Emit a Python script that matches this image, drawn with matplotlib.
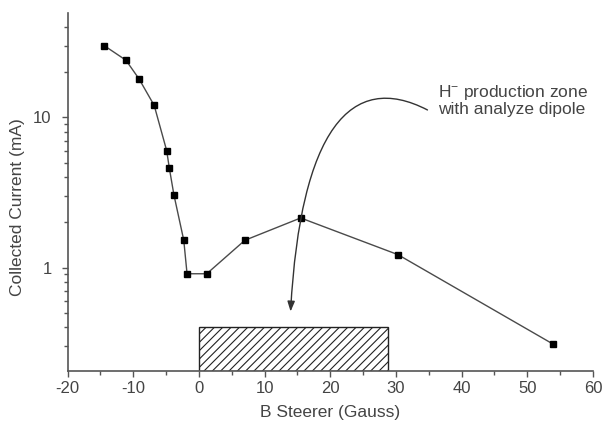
import matplotlib
matplotlib.use("Agg")
import matplotlib.pyplot as plt
from matplotlib.path import Path
from matplotlib.patches import FancyArrowPatch, Rectangle
from matplotlib.ticker import LogLocator, FixedFormatter, FixedLocator, NullFormatter

plt.rcParams['font.family'] = ['Liberation Sans', 'DejaVu Sans']
plt.rcParams['mathtext.fontset'] = 'custom'
plt.rcParams['mathtext.rm'] = 'Liberation Sans'
plt.rcParams['mathtext.it'] = 'Liberation Sans'
plt.rcParams['hatch.linewidth'] = 0.8
plt.rcParams['axes.unicode_minus'] = False

# Data
b_steerer = [-14.4, -11.1, -9.1, -6.8, -4.9, -4.5, -3.8, -2.3, -1.8, 1.2, 7.0, 15.5, 30.3, 53.9]
current = [30.0, 24.0, 18.0, 12.0, 6.0, 4.6, 3.05, 1.52, 0.91, 0.91, 1.52, 2.14, 1.22, 0.31]

zone_x = [0.0, 28.8]
zone_top = 0.40

annot_text = "H$^{-}$ production zone\nwith analyze dipole"
arrow_x = [34.8, 23.1, 15.5, 13.96]
arrow_y = [11.2, 20.6, 8.2, 0.51]

xticks = [-20, -10, 0, 10, 20, 30, 40, 50, 60]
yticks = [1, 10]
yticklabels = ["1", "10"]

txt = '#444444'
ln = '#4a4a4a'

fig = plt.figure(figsize=(6.03, 4.23), dpi=100)
ax = fig.add_axes([67.5/603, (423-371)/423, (593-67.5)/603, (371-13)/423])

ax.set_yscale('log')
ax.set_xlim(-20, 60)
ax.set_ylim(0.205, 49.5)

ax.plot(b_steerer, current, color=ln, lw=1.0, marker='s', markersize=4.8,
        markerfacecolor='black', markeredgecolor='black', zorder=3)

rect = Rectangle((zone_x[0], ax.get_ylim()[0]), zone_x[1]-zone_x[0], zone_top-ax.get_ylim()[0],
                 fill=False, hatch='////', edgecolor='#222222', lw=1.0, zorder=2)
ax.add_patch(rect)

path = Path(list(zip(arrow_x, arrow_y)), [Path.MOVETO, Path.CURVE4, Path.CURVE4, Path.CURVE4])
arr = FancyArrowPatch(path=path, arrowstyle='-|>,head_length=0.6,head_width=0.22',
                      mutation_scale=10, color='#333333', lw=1.0, zorder=4)
ax.add_patch(arr)

ax.text(36.4, 17.0, annot_text, fontsize=12.5, color=txt, ha='left', va='top',
        linespacing=1.05)

for s in ['top', 'right']:
    ax.spines[s].set_visible(False)
for s in ['left', 'bottom']:
    ax.spines[s].set_color('#555555')
    ax.spines[s].set_linewidth(1.2)

ax.set_xticks(xticks)
ax.set_xticks([-15, -5, 5, 15, 25, 35, 45, 55], minor=True)
ax.yaxis.set_major_locator(FixedLocator(yticks))
ax.yaxis.set_major_formatter(FixedFormatter(yticklabels))
ax.yaxis.set_minor_locator(LogLocator(base=10, subs=[2, 3, 4, 5, 6, 7, 8, 9]))
ax.yaxis.set_minor_formatter(NullFormatter())

ax.tick_params(axis='both', which='major', direction='out', length=4.5, width=1.0,
               color='#555555', labelsize=12, labelcolor=txt)
ax.tick_params(axis='both', which='minor', direction='out', length=3, width=1.0, color='#555555')
ax.tick_params(axis='y', which='major', pad=7)
ax.tick_params(axis='x', which='major', pad=3)

ax.set_xlabel('B Steerer (Gauss)', fontsize=12.5, color=txt, labelpad=6)
ax.set_ylabel('Collected Current (mA)', fontsize=12.5, color=txt)
ax.yaxis.set_label_coords(-0.081, 0.457)

fig.savefig('out.png', dpi=100)
